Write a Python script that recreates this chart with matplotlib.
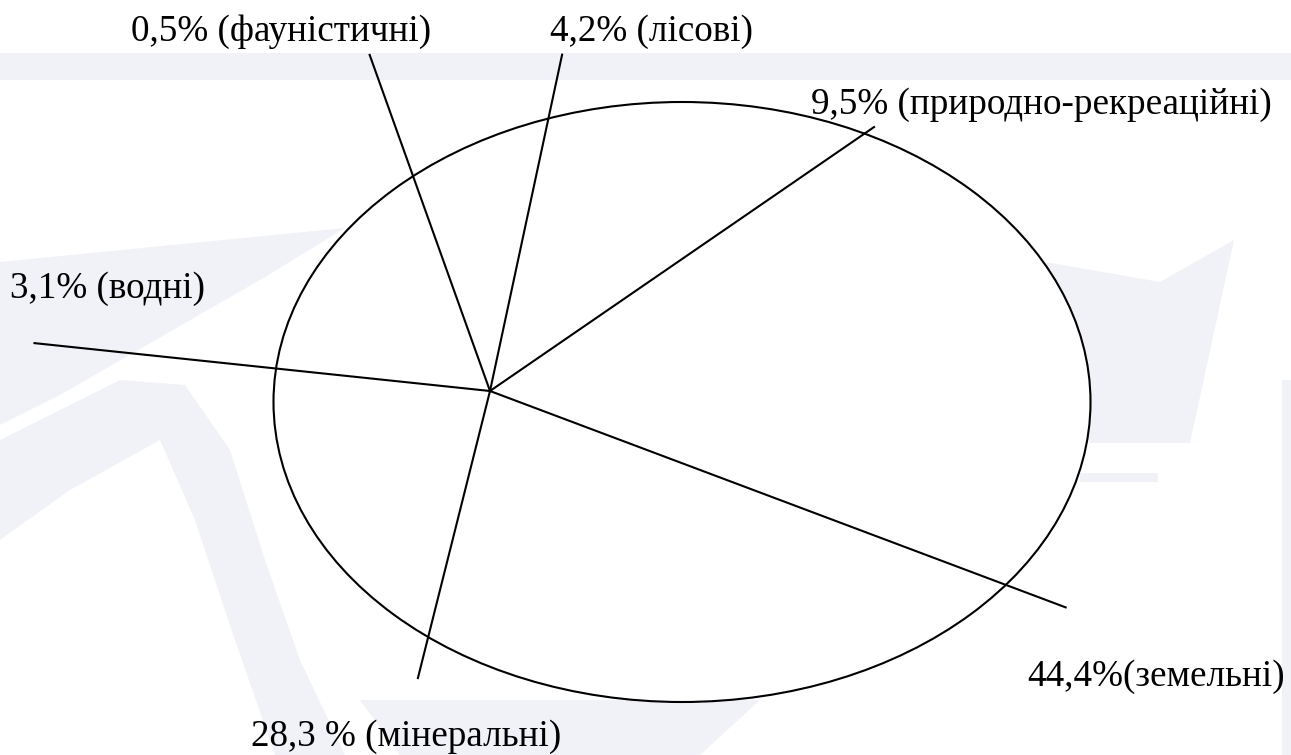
import numpy as np
import matplotlib.pyplot as plt
from matplotlib.patches import Ellipse, Polygon

# labels and their shares (percent)
labels = ["0,5% (фауністичні)", "4,2% (лісові)", "9,5% (природно-рекреаційні)",
          "3,1% (водні)", "44,4%(земельні)", "28,3 % (мінеральні)"]
shares = [0.5, 4.2, 9.5, 3.1, 44.4, 28.3]

# spoke direction (deg, counter-clockwise from +x) and length (px)
spoke_angle = [109.7, 77.9, 34.5, 174.0, -20.6, -104.1]
spoke_len = [357, 344, 466, 458, 615, 296]

# label centre positions (px, y down)
label_x = [281, 652, 1041, 108, 1156, 406]
label_y = [32, 32, 105, 289, 677, 737]

W, H = 1291, 755
hub = (490, 391)
ell_c = (682, 402)
ell_w, ell_h = 817, 600

fig = plt.figure(figsize=(W / 100, H / 100), dpi=100)
ax = fig.add_axes([0, 0, 1, 1])
ax.set_xlim(0, W)
ax.set_ylim(H, 0)
ax.axis("off")

# faint watermark in the background
wm = "#f1f1f8"
shapes = [
    [(0, 53), (W, 53), (W, 80), (0, 80)],
    [(0, 262), (345, 228), (265, 277), (60, 395), (0, 425)],
    [(0, 440), (60, 410), (120, 380), (185, 385), (230, 450), (265, 560),
     (300, 660), (345, 755), (275, 755), (235, 640), (195, 520), (160, 440), (70, 490), (0, 540)],
    [(1045, 262), (1160, 282), (1234, 240), (1190, 443), (1090, 443)],
    [(1080, 473), (1158, 473), (1158, 482), (1080, 482)],
    [(1282, 380), (W, 380), (W, H), (1282, H)],
    [(360, 700), (760, 700), (700, 755), (400, 755)],
]
for pts in shapes:
    ax.add_patch(Polygon(pts, closed=True, facecolor=wm, edgecolor="none", zorder=0))

ax.add_patch(Ellipse(ell_c, ell_w, ell_h, facecolor="white", edgecolor="black",
                     linewidth=1.5, zorder=2))

for ang, ln in zip(spoke_angle, spoke_len):
    t = np.deg2rad(ang)
    ax.plot([hub[0], hub[0] + ln * np.cos(t)], [hub[1], hub[1] - ln * np.sin(t)],
            color="black", linewidth=1.5, zorder=3)

for txt, x, y in zip(labels, label_x, label_y):
    ax.text(x, y, txt, ha="center", va="center", fontsize=26.7,
            family="Liberation Serif", color="black", zorder=4)

plt.savefig("out.png", dpi=100)
